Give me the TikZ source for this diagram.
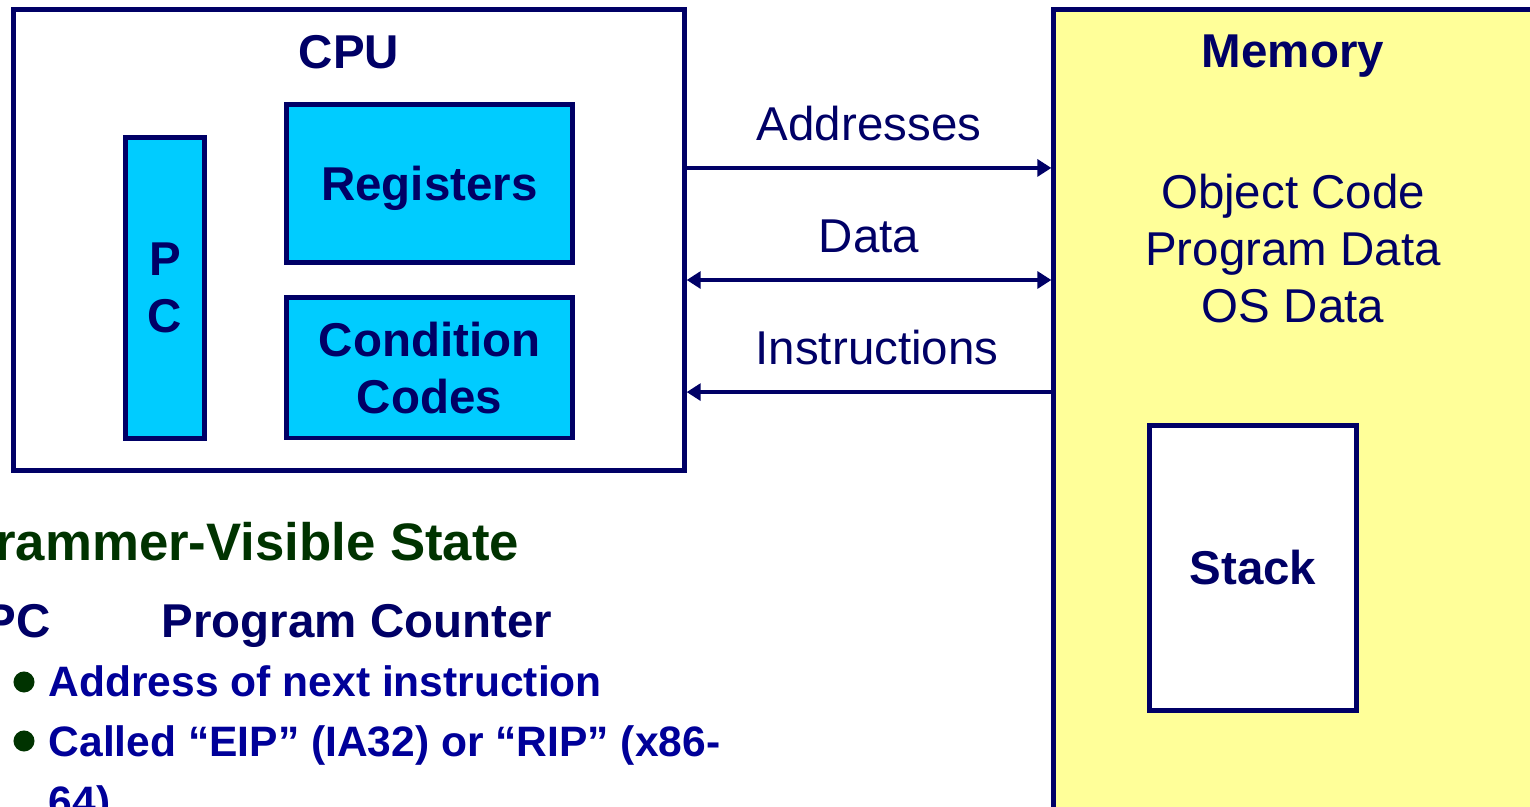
\documentclass[tikz,border=0pt]{standalone}
\usepackage{fontspec}
\setmainfont{Liberation Sans}
\usetikzlibrary{arrows.meta,positioning}

\definecolor{navy}{RGB}{0,0,102}
\definecolor{itemblue}{RGB}{0,0,153}
\definecolor{regcyan}{RGB}{0,204,255}
\definecolor{memyellow}{RGB}{255,255,153}
\definecolor{stategreen}{RGB}{0,51,0}

\tikzset{
  box/.style={draw=navy, line width=1.4pt, inner sep=0pt},
  part/.style={box, fill=regcyan, text=navy, align=center, text depth=0pt,
    font=\fontsize{13.5}{16.2}\selectfont\bfseries},
  lbl/.style={text=navy, inner sep=0pt, font=\fontsize{13.5}{16.2}\selectfont},
  title/.style={lbl, font=\fontsize{13.5}{16.2}\selectfont\bfseries},
  item/.style={text=itemblue, inner sep=0pt, anchor=base west,
    font=\fontsize{12.1}{14.5}\selectfont\bfseries},
  dot/.style={circle, fill=stategreen, inner sep=0pt, minimum size=0.21cm},
  link/.style={draw=navy, line width=1.15pt},
}

\begin{document}
\begin{tikzpicture}[x=0.01cm, y={(0,-0.01cm)}, >={Triangle[length=4pt, width=4.8pt]}]
  \useasboundingbox (0,0) rectangle (1530,807);

  % CPU
  \node[box, fill=white, minimum width=6.70cm, minimum height=4.60cm] (cpu) at (349,240) {};
  \node[title] (cputitle) at (349,52) {CPU};
  \node[part, minimum width=0.79cm, minimum height=3.00cm] (pc) at (165,288) {P\\C};
  \node[part, minimum width=2.85cm, minimum height=1.57cm] (regs) at (429.5,183.5) {Registers};
  \node[part, minimum width=2.85cm, minimum height=1.40cm] (cc) at (429.5,368) {Condition\\Codes};

  % Memory
  \node[box, fill=memyellow, minimum width=4.80cm, minimum height=8.10cm] (mem) at (1294,415) {};
  \node[title] (memtitle) at (1293,56) {Memory};
  \node[lbl, align=center] (contents) at (1293,249) {Object Code\\Program Data\\OS Data};
  \node[box, fill=white, text=navy, font=\fontsize{13.5}{16.2}\selectfont\bfseries,
    minimum width=2.06cm, minimum height=2.84cm] (stack) at (1253,568) {Stack};

  \draw[link, ->] ([yshift=0.72cm]cpu.east) -- node[lbl, above=7pt] (addr) {Addresses} ([yshift=0.72cm]cpu.east -| mem.west);
  \draw[link, <->] ([yshift=-0.40cm]cpu.east) -- node[lbl, above=7pt] (data) {Data} ([yshift=-0.40cm]cpu.east -| mem.west);
  \draw[link, <-] ([yshift=-1.52cm]cpu.east) -- node[lbl, above=7pt, xshift=0.08cm] (instr) {Instructions} ([yshift=-1.52cm]cpu.east -| mem.west);

  % state
  \node[title, text=stategreen, anchor=base east, font=\fontsize{15}{17}\selectfont\bfseries] (state) at (520,561) {Programmer-Visible State};
  \node[title, anchor=base east] (pcname) at (51,638) {PC};
  \node[title, anchor=base west] (pcdesc) at (161,638) {Program Counter};
  \node[dot] (dot1) at (24,682) {};
  \node[item] (item1) at (48,697) {Address of next instruction};
  \node[dot] (dot2) at (24,741) {};
  \node[item] (item2) at (48,757) {Called ``EIP'' (IA32) or ``RIP'' (x86-};
  \node[item] (item2b) at (48,817) {64)};
\end{tikzpicture}
\end{document}
